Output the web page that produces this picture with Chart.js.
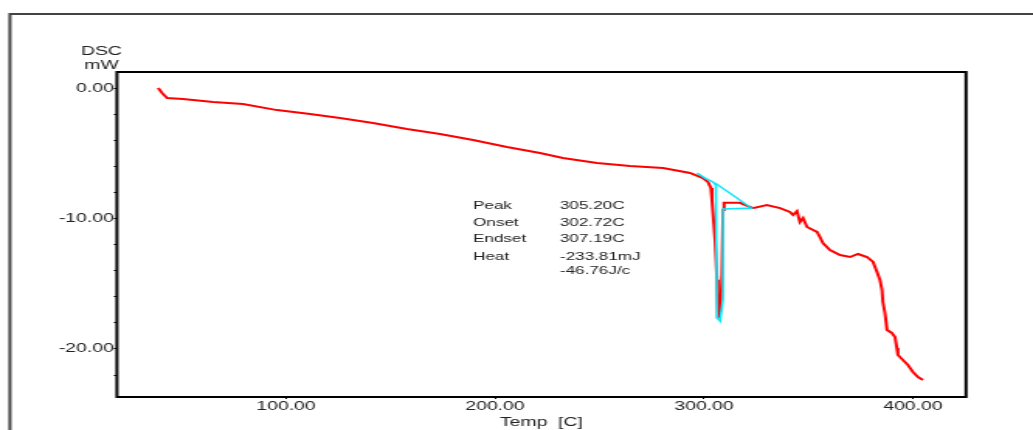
<!DOCTYPE html>
<html>
<head>
<meta charset="utf-8">
<script src="https://cdn.jsdelivr.net/npm/chart.js@4.4.0/dist/chart.umd.min.js"></script>
<style>
  html, body { margin: 0; padding: 0; background: #fff; overflow: hidden; }
  /* the reference picture is stretched sideways, so the canvas is too */
  #dscChart { display: block; transform: scaleX(1.5511); transform-origin: 0 0; }
</style>
</head>
<body>
<canvas id="dscChart" width="666" height="430"></canvas>
<script>
// DSC trace (red), temperature in C and heat flow in mW
const traceTemp = [38.8, 40.7, 43.1, 50.7, 65.1, 79.4, 95.7, 111.5, 125.8, 141.6,
    157.9, 173.7, 189.5, 205.7, 221.5, 232.5, 248.8, 264.6, 280.4, 293.3,
    299.5, 301.9, 303.3, 303.8, 304.3, 305.3, 306.2, 306.7, 307.4, 308.1,
    308.6, 309.1, 309.6, 317.2, 323.4, 330.1, 336.4, 341.1, 342.6, 344.5,
    345.9, 347.4, 349.3, 352.2, 354.1, 355.5, 356.9, 360.3, 365.1, 369.9,
    373.7, 378.0, 380.9, 382.8, 384.2, 385.2, 385.6, 386.6, 387.6, 389.9,
    391.4, 392.3, 392.8, 395.2, 397.6, 400.0, 402.4, 404.8];
const traceDsc = [0, -0.38, -0.77, -0.84, -1.07, -1.23, -1.69, -1.99, -2.30, -2.68,
    -3.14, -3.52, -3.98, -4.52, -4.98, -5.36, -5.75, -5.98, -6.13, -6.51,
    -6.9, -7.2, -7.66, -8.58, -9.58, -11.65, -14.7, -17.55, -17.5, -16.2,
    -14.3, -9.35, -8.8, -8.8, -9.2, -8.97, -9.2, -9.5, -9.73, -9.43,
    -10.27, -9.96, -10.65, -10.88, -11.03, -11.42, -11.88, -12.41, -12.8, -12.95,
    -12.72, -12.95, -13.33, -14.10, -14.71, -15.48, -16.40, -17.24, -18.54, -18.77,
    -19.08, -19.92, -20.46, -20.84, -21.23, -21.76, -22.15, -22.38];

// peak analysis (cyan)
const peakTemp = [296.7, 300.5, 304.3, 305.7, 306.2, 307.7, 309.1, 309.1, 323.4];
const peakDsc = [-6.51, -6.9, -7.2, -7.43, -17.6, -17.85, -16.2, -9.27, -9.2];
const baseTemp = [305.3, 322.0];
const baseDsc = [-7.28, -9.12];

// axes
const xTicks = [100, 200, 300, 400];
const yTicks = [0, -2, -4, -6, -8, -10, -12, -14, -16, -18, -20, -22];

// peak results
const resultNames = ['Peak', 'Onset', 'Endset', 'Heat', ''];
const resultValues = ['305.20C', '302.72C', '307.19C', '-233.81mJ', '-46.76J/c'];

function toPoints(xs, ys) {
    return xs.map((x, i) => ({ x: x, y: ys[i] }));
}

// frame, plot box, axis unit and the result table
const decorPlugin = {
    id: 'decor',
    beforeDraw(chart) {
        const ctx = chart.ctx;
        ctx.save();
        ctx.strokeStyle = '#444';
        ctx.lineWidth = 2;
        ctx.strokeRect(6.4, 14, 1000, 1000);
        ctx.restore();
    },
    afterDraw(chart) {
        const ctx = chart.ctx;
        const a = chart.chartArea;
        ctx.save();
        ctx.strokeStyle = '#000';
        ctx.lineWidth = 2;
        ctx.strokeRect(a.left, a.top, a.right - a.left, a.bottom - a.top);

        ctx.fillStyle = '#222';
        ctx.font = '12.5px "Liberation Sans", Arial, sans-serif';
        ctx.textAlign = 'center';
        ctx.textBaseline = 'middle';
        ctx.fillText('DSC', 65.4, 52);
        ctx.fillText('mW', 65.4, 66);

        ctx.font = '11px "Liberation Sans", Arial, sans-serif';
        ctx.textAlign = 'left';
        const rowY = [205.5, 222.5, 239, 256.5, 271];
        resultNames.forEach((name, i) => {
            ctx.fillText(name, 305, rowY[i]);
            ctx.fillText(resultValues[i], 361, rowY[i]);
        });
        ctx.restore();
    }
};

const ctx = document.getElementById('dscChart').getContext('2d');
new Chart(ctx, {
    type: 'line',
    data: {
        datasets: [
            {
                label: 'Peak',
                data: toPoints(peakTemp, peakDsc),
                borderColor: '#10e6fa',
                borderWidth: 1.6,
                pointRadius: 0,
                tension: 0
            },
            {
                label: 'Baseline',
                data: toPoints(baseTemp, baseDsc),
                borderColor: '#10e6fa',
                borderWidth: 1.4,
                pointRadius: 0,
                tension: 0
            },
            {
                label: 'DSC',
                data: toPoints(traceTemp, traceDsc),
                borderColor: '#ff0000',
                borderWidth: 2,
                pointRadius: 0,
                tension: 0
            }
        ]
    },
    options: {
        responsive: false,
        animation: false,
        layout: {
            padding: { left: 0, right: 43.2, top: 72, bottom: 0 }
        },
        plugins: {
            legend: { display: false },
            tooltip: { enabled: false }
        },
        scales: {
            x: {
                type: 'linear',
                min: 19.1,
                max: 425.4,
                afterBuildTicks: scale => { scale.ticks = xTicks.map(v => ({ value: v })); },
                afterFit: scale => { scale.height = 33; },
                border: { display: false },
                grid: { drawOnChartArea: false, drawTicks: true, tickLength: 2, color: '#000' },
                ticks: {
                    padding: 0,
                    maxRotation: 0,
                    color: '#222',
                    font: { family: '"Liberation Sans", Arial, sans-serif', size: 12.5 },
                    callback: v => v.toFixed(2)
                },
                title: {
                    display: true,
                    text: 'Temp  [C]',
                    color: '#222',
                    padding: { top: 0, bottom: 0 },
                    font: { family: '"Liberation Sans", Arial, sans-serif', size: 12.5 }
                }
            },
            y: {
                type: 'linear',
                min: -23.68,
                max: 1.23,
                afterBuildTicks: scale => { scale.ticks = yTicks.map(v => ({ value: v })); },
                afterFit: scale => { scale.width = 75.4; },
                border: { display: false },
                grid: { drawOnChartArea: false, drawTicks: true, tickLength: 2, color: '#000' },
                ticks: {
                    padding: 0,
                    color: '#222',
                    font: { family: '"Liberation Sans", Arial, sans-serif', size: 12.5 },
                    callback: v => (v % 10 === 0 ? v.toFixed(2) : '')
                }
            }
        }
    },
    plugins: [decorPlugin]
});
</script>
</body>
</html>
